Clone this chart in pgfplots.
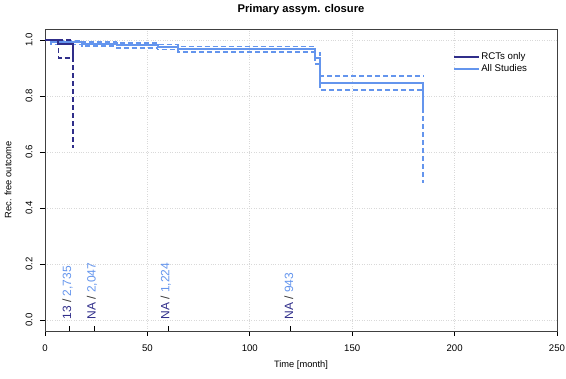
\documentclass[border=0pt]{standalone}
\usepackage{pgfplots}
\pgfplotsset{compat=1.18}
\usepackage{fontspec}
\setmainfont{Liberation Sans}
\definecolor{rct}{RGB}{48,46,138}
\definecolor{alls}{RGB}{100,149,237}
\begin{document}
\begin{tikzpicture}
\useasboundingbox (-45pt,-48pt) rectangle (521pt,331pt);
\begin{axis}[
  at={(0,0)}, anchor=south west,
  scale only axis, width=512pt, height=302pt,
  xmin=0, xmax=250, ymin=-0.04, ymax=1.04,
  xtick={0,50,100,150,200,250},
  ytick={0,0.2,0.4,0.6,0.8,1.0},
  yticklabels={0.0,0.2,0.4,0.6,0.8,1.0},
  extra x ticks={12,24,60,120},
  extra x tick labels={},
  extra x tick style={grid=none, tick align=inside, major tick length=5pt},
  tick align=outside, major tick length=5pt,
  tick style={black, line width=0.6pt},
  xtick pos=bottom, ytick pos=left,
  axis line style={black!75, line width=0.7pt},
  grid=major,
  grid style={dotted, gray!30, line width=0.6pt},
  /pgf/number format/assume math mode=true,
  ticklabel style={font=\fontsize{9.6}{10}\selectfont},
  xticklabel style={yshift=-5pt},
  yticklabel style={rotate=90, anchor=south, yshift=4pt},
  title={Primary assym. closure},
  title style={at={(axis description cs:0.5,1)}, anchor=center, yshift=13pt, font=\bfseries\fontsize{11.2}{12}\selectfont},
  xlabel={Time [month]},
  xlabel style={at={(axis description cs:0.5,0)}, anchor=center, yshift=-34pt, font=\fontsize{9.3}{10}\selectfont},
  ylabel={Rec. free outcome},
  ylabel style={at={(axis description cs:0,0.5)}, anchor=center, yshift=37pt, font=\fontsize{9.3}{10}\selectfont},
  legend image code/.code={\draw[#1] (0pt,0pt) -- (19pt,0pt); \path (0pt,0pt) -- (25pt,0pt);},
  legend style={draw=none, fill=none, at={(0.797,0.9265)}, anchor=north west, inner sep=0pt,
    font=\fontsize{9.7}{10}\selectfont, row sep=0pt,
    nodes={inner sep=1pt, text height=7.5pt, text depth=2pt}},
  legend cell align=left,
]
% All studies
\addplot[alls, line width=2pt, forget plot] coordinates {
(0,1) (3,1) (3,0.992) (18,0.992) (18,0.987) (35,0.987) (35,0.981) (55,0.981) (55,0.975) (65,0.975) (65,0.967) (131.8,0.967) (131.8,0.935) (134.3,0.935) (134.3,0.847) (184.7,0.847) (184.7,0.74)};
\addplot[alls, line width=1.6pt, dash pattern=on 5pt off 3pt, forget plot] coordinates {
(3,1) (3,0.998) (18,0.998) (18,0.994) (35,0.994) (35,0.989) (55,0.989) (55,0.984) (65,0.984) (65,0.977) (131.8,0.977) (131.8,0.955) (134.3,0.955) (134.3,0.871) (184.7,0.871)};
\addplot[alls, line width=1.6pt, dash pattern=on 5pt off 3pt, forget plot] coordinates {
(3,1) (3,0.985) (18,0.985) (18,0.979) (35,0.979) (35,0.973) (55,0.973) (55,0.966) (65,0.966) (65,0.958) (131.8,0.958) (131.8,0.915) (134.3,0.915) (134.3,0.821) (184.7,0.821) (184.7,0.49)};
% RCTs only
\addplot[rct, line width=2pt, forget plot] coordinates {
(0,1) (6.5,1) (6.5,0.985) (13.8,0.985) (13.8,0.935)};
\addplot[rct, line width=1.6pt, dash pattern=on 5pt off 3pt, forget plot] coordinates {
(6.5,1) (13.8,1)};
\addplot[rct, line width=1.6pt, dash pattern=on 5pt off 3pt, forget plot] coordinates {
(6.5,1) (6.5,0.937) (13.8,0.937) (13.8,0.615)};
\addlegendimage{rct, line width=2pt}
\addlegendentry{RCTs only}
\addlegendimage{alls, line width=2pt}
\addlegendentry{All Studies}
% numbers at risk
\begin{scope}[every node/.style={rotate=90, anchor=west, inner sep=0pt, yshift=2pt, font=\fontsize{12}{12}\selectfont}]
\node at (axis cs:12,0) {{\color{rct}13} {\color{black!80}/} {\color{alls}2,735}};
\node at (axis cs:24,0) {{\color{rct}NA} {\color{black!80}/} {\color{alls}2,047}};
\node at (axis cs:60,0) {{\color{rct}NA} {\color{black!80}/} {\color{alls}1,224}};
\node at (axis cs:120,0) {{\color{rct}NA} {\color{black!80}/} {\color{alls}943}};
\end{scope}
\end{axis}
\end{tikzpicture}
\end{document}
